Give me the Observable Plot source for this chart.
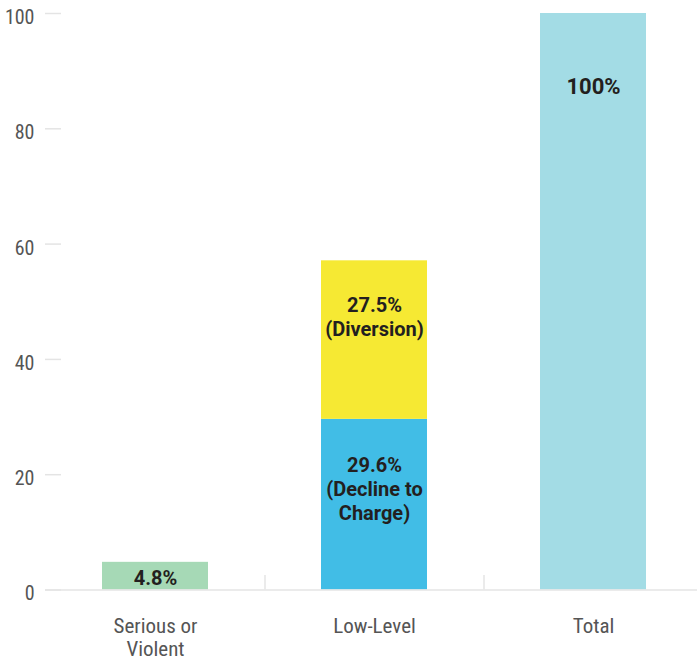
<!DOCTYPE html>
<html>
<head>
<meta charset="utf-8">
<script src="https://cdn.jsdelivr.net/npm/d3@7"></script>
<script src="https://cdn.jsdelivr.net/npm/@observablehq/plot@0.6"></script>
<style>
  html, body { margin: 0; padding: 0; background: #fff; overflow: hidden; }
  #chart { width: 697px; height: 660px; }
</style>
</head>
<body>
<div id="chart"></div>
<script>
// ---- Data ----
const categories = ["Serious or Violent", "Low-Level", "Total"];
const categoryLabels = ["Serious or\nViolent", "Low-Level", "Total"];
const segCategory = ["Serious or Violent", "Low-Level", "Low-Level", "Total"];
const segName = ["Serious or Violent", "Decline to Charge", "Diversion", "Total"];
const segValue = [4.8, 29.6, 27.5, 100];
const segLabel = ["4.8%", "29.6%\n(Decline to\nCharge)", "27.5%\n(Diversion)", "100%"];
const yTicks = [0, 20, 40, 60, 80, 100];

// ---- Styles ----
const segColors = ["#a6d9b6", "#41bde6", "#f6e933", "#a3dce5"];
const labelStyle = {
  "Serious or Violent": {dy: 1, fontSize: 20},
  "Decline to Charge": {dy: -16, fontSize: 20},
  "Diversion": {dy: -24, fontSize: 20},
  "Total": {dy: -216, fontSize: 22}
};
const gridGray = "#e4e4e4";
const textGray = "#555555";
const labelFont = "Roboto, 'Liberation Sans', sans-serif";
const axisFont = "'Liberation Sans Narrow', 'Roboto Condensed', Roboto, sans-serif";

// Build table with stack bases
const base = {};
const table = segName.map((n, i) => {
  const c = segCategory[i];
  const y1 = base[c] || 0;
  const y2 = y1 + segValue[i];
  base[c] = y2;
  return {category: c, name: n, value: segValue[i], label: segLabel[i], y1, y2, mid: (y1 + y2) / 2};
});
const catLabel = new Map(categories.map((c, i) => [c, categoryLabels[i]]));

const labelMarks = table.map(d => Plot.text([d], {
  x: "category",
  y: "mid",
  text: "label",
  dy: labelStyle[d.name].dy,
  fontSize: labelStyle[d.name].fontSize,
  fontWeight: 700,
  fontFamily: labelFont,
  fill: "#231f20",
  lineAnchor: "middle",
  lineHeight: 1.2
}));

const chart = Plot.plot({
  width: 697,
  height: 660,
  marginLeft: 45,
  marginRight: 0,
  marginTop: 13,
  marginBottom: 70.5,
  style: {fontFamily: axisFont, fontSize: "20px", color: textGray, background: "#fff", overflow: "visible"},
  x: {domain: categories, range: [45, 702], paddingInner: 0.516, paddingOuter: 0.258, axis: null, label: null},
  y: {domain: [0, 100], axis: null, label: null},
  color: {domain: segName, range: segColors},
  marks: [
    // category separators at band boundaries
    Plot.ruleX(categories.slice(1), {x: d => d, y1: 0, y2: 2.5, dx: -109.5, stroke: gridGray, strokeWidth: 1.5}),
    Plot.barY(table, {x: "category", y1: "y1", y2: "y2", fill: "name"}),
    // baseline
    Plot.ruleY([0], {stroke: gridGray, strokeWidth: 1.5}),
    // y axis line
    Plot.axisY({ticks: yTicks, tickSize: 0, line: true, tickFormat: () => "", label: null, stroke: gridGray, strokeWidth: 1.5}),
    // inward ticks
    Plot.axisY({ticks: yTicks, tickSize: 16, dx: 16, tickFormat: () => "", label: null, stroke: gridGray, strokeWidth: 1.5}),
    // tick labels
    Plot.axisY({ticks: yTicks, tickSize: 0, tickPadding: 11, dy: 4, label: null, fontSize: 20, fill: textGray, fontFamily: axisFont}),
    // category labels
    Plot.axisX({tickSize: 0, tickPadding: 26, label: null, tickFormat: c => catLabel.get(c), fontSize: 21, lineHeight: 1.12, fill: textGray, fontFamily: axisFont}),
    ...labelMarks
  ]
});
document.getElementById("chart").appendChild(chart);
</script>
</body>
</html>
